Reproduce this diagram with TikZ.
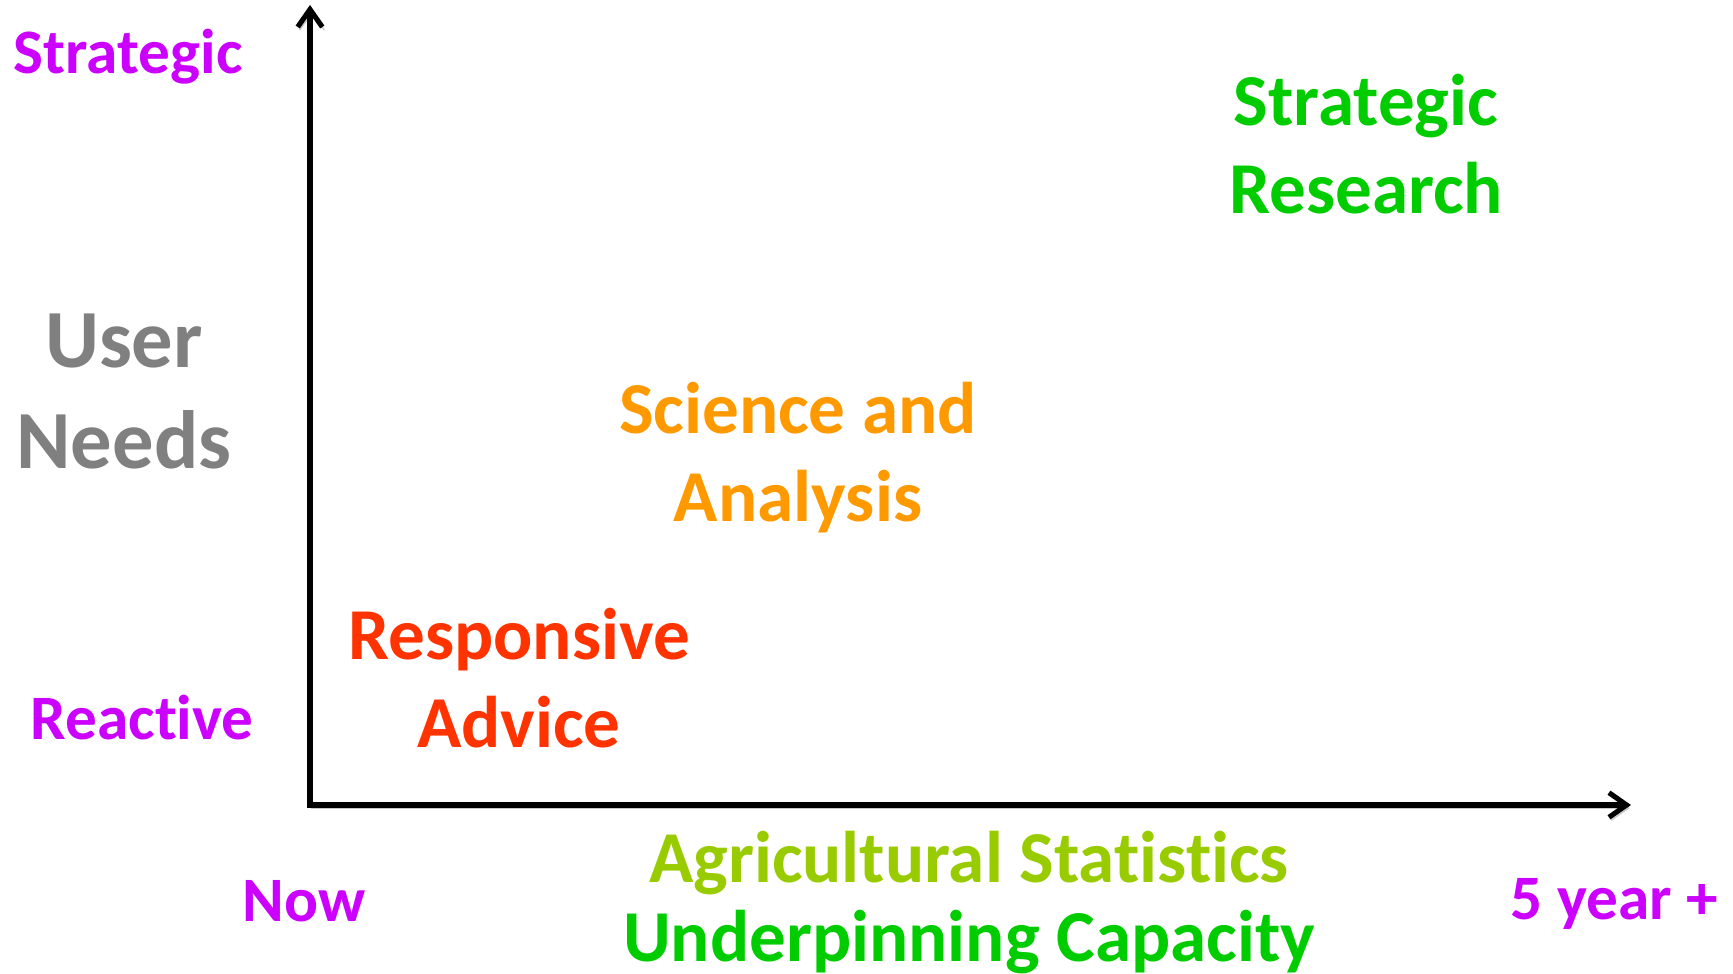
\documentclass[tikz,border=0pt]{standalone}
\usepackage{fontspec}
\setmainfont{Carlito}[Ligatures=NoCommon]
\usetikzlibrary{arrows.meta}

\definecolor{tagpurple}{HTML}{CC00FF}
\definecolor{needsgrey}{HTML}{808080}
\definecolor{advicered}{HTML}{FF3300}
\definecolor{scienceorange}{HTML}{FF9900}
\definecolor{researchgreen}{HTML}{00CC00}
\definecolor{statslime}{HTML}{99CC00}

\begin{document}
\begin{tikzpicture}
	[x=0.01cm,y=-0.01cm%
	,every node/.style={inner sep=0pt}%
	,scale label/.style={text=tagpurple,%
		font=\bfseries\fontsize{18}{21.6}\selectfont,%
		anchor=base west}%
	,area label/.style={align=center,%
		anchor=base,%
		font=\bfseries\fontsize{20.8}{25.3}\selectfont}%
	,axis/.style={line width=1.45pt,%
		{Straight Barb[length=5pt,width=7pt]}-{Straight Barb[length=5pt,width=7pt]},%
		preaction={draw=black!22,transform canvas={shift={(2,3)}}}}]
	\useasboundingbox (0,0) rectangle (1733,974);
	% axes
	\coordinate (origin) at (310,805);
	\coordinate (ytip) at (310,5);
	\coordinate (xtip) at (1631,805);
	\draw[axis] (ytip) -- (origin) -- (xtip);
	% scale ends
	\node[scale label] (strategic) at (13,74) {Strategic};
	\node[scale label] (reactive) at (30,740) {Reactive};
	\node[scale label] (now) at (242,922) {Now};
	\node[scale label] (later) at (1510,920) {5 year +};
	% axis titles (base = last line)
	\node[area label,text=needsgrey,font=\bfseries\fontsize{23.5}{29}\selectfont]
		(needs) at (124,469) {User\\Needs};
	\node[align=center,anchor=base,font=\bfseries\fontsize{20.8}{22.5}\selectfont]
		(capacity) at (969,962)
		{\textcolor{statslime}{Agricultural Statistics}\\
		 \textcolor{researchgreen}{Underpinning Capacity}};
	% areas
	\node[area label,text=advicered] (advice) at (519,748) {Responsive\\Advice};
	\node[area label,text=scienceorange] (science) at (798,522) {Science and\\Analysis};
	\node[area label,text=researchgreen] (research) at (1366,214) {Strategic\\Research};
\end{tikzpicture}
\end{document}
